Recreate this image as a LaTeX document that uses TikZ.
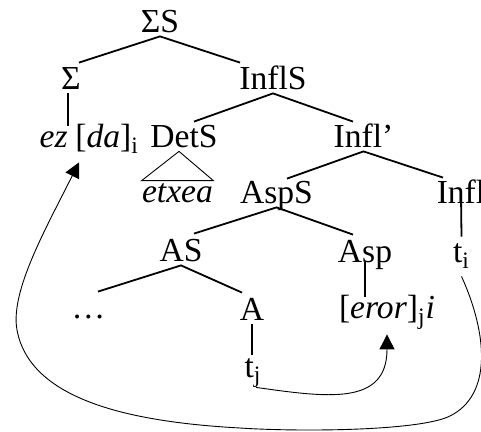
\documentclass[tikz,border=0pt]{standalone}
\usepackage{fontspec}
\setmainfont{Liberation Serif}
\usetikzlibrary{arrows.meta}

\begin{document}
\begin{tikzpicture}[x=0.5pt,y=0.5pt,
        font=\fontsize{16.8}{20}\selectfont,
        cat/.style={inner sep=0pt,text height=11pt,text depth=1.5pt,anchor=base},
        branch/.style={line width=0.9pt},
        move/.style={line width=0.45pt,-{Triangle[length=7.5pt,width=7.5pt]}}]
        \useasboundingbox (0,0) rectangle (481,-432);
        \node[cat] (ss) at (160,-33) {ΣS};
        \node[cat] (sig) at (71,-90) {Σ};
        \node[cat] (infls) at (273,-90) {InflS};
        \node[cat,anchor=base east] (ez) at (68,-148) {\textit{ez}};
        \node[cat,anchor=base west] (da) at (75,-148) {[\textit{da}]\textsubscript{i}};
        \node[cat] (dets) at (184,-148) {DetS};
        \node[cat] (inflbar) at (363.5,-148) {Infl’};
        \node[cat] (etxea) at (177.5,-203) {\textit{etxea}};
        \node[cat] (asps) at (276.5,-204) {AspS};
        \node[cat] (infl) at (461,-204) {Infl};
        \node[cat] (as) at (181,-262) {AS};
        \node[cat] (asp) at (365,-263) {Asp};
        \node[cat] (ti) at (461.5,-263) {t\textsubscript{i}};
        \node[cat] (dots) at (88.5,-318) {…};
        \node[cat] (a) at (252,-321) {A};
        \node[cat] (eror) at (387,-319) {[\textit{eror}]\textsubscript{j}\textit{i}};
        \node[cat] (tj) at (253,-377) {t\textsubscript{j}};

        \draw[branch] ([shift={(8,5)}]sig.north) -- (ss.south) -- ([shift={(-33,5)}]infls.north);
        \draw[branch] (sig.south -| ez.north east) -- (ez.north east);
        \draw[branch] ([shift={(10,4)}]dets.north) -- (infls.south) -- ([shift={(-10.5,4)}]inflbar.north);
        \draw[line width=0.45pt] ([xshift=-2.5pt]dets.south) -- (etxea.north west) -- (etxea.north east) -- cycle;
        \draw[branch] ([shift={(10.5,3)}]asps.north) -- (inflbar.south) -- ([shift={(-18,4)}]infl.north);
        \draw[branch] ([yshift=6pt]infl.south) -- ([yshift=2pt]ti.north);
        \draw[branch] ([shift={(13,6)}]as.north) -- (asps.south) -- ([shift={(-12,6)}]asp.north);
        \draw[branch] ([shift={(9.5,4)}]dots.north) -- (as.south) -- ([shift={(-10,6)}]a.north);
        \draw[branch] ([yshift=2pt]asp.south) -- (asp.south |- eror.north);
        \draw[branch] (a.south) -- (a.south |- tj.north);

        \draw[move] ([shift={(3,-7)}]tj.south) to[out=-8,in=-90,looseness=1.3] ([yshift=-6pt]eror.south);
        \draw[move] ([yshift=-5pt]ti.south) .. controls (488,-335) and (492,-395) .. (450,-416)
            .. controls (420,-431) and (300,-432) .. (240,-428)
            .. controls (130,-422) and (30,-400) .. (17,-330)
            .. controls (10,-292) and (45,-230) .. ([shift={(4,-11)}]da.south west);
\end{tikzpicture}
\end{document}
